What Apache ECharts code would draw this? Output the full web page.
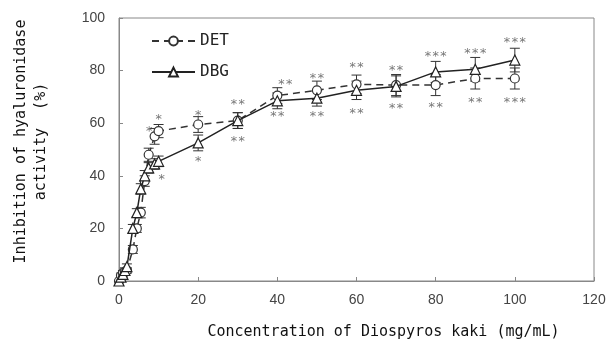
<!DOCTYPE html>
<html>
<head>
<meta charset="utf-8">
<script src="https://cdn.jsdelivr.net/npm/echarts@6/dist/echarts.min.js"></script>
<style>html,body{margin:0;padding:0;background:#fff}#c{width:608px;height:339px}</style>
</head>
<body>
<div id="c"></div>
<script>
// Concentrations (mg/mL)
var conc = [0, 0.5, 1, 1.5, 2, 3.5, 4.5, 5.5, 6.5, 7.5, 9, 10, 20, 30, 40, 50, 60, 70, 80, 90, 100];
// Inhibition (%)
var detValues = [0, 2, 3, 3.5, 4, 12, 20, 26, 38, 48, 55, 57, 59.5, 61, 70.5, 72.5, 74.8, 74.5, 74.5, 77, 77];
var dbgValues = [0, 1.5, 2.5, 4, 5.5, 20, 26, 35, 40, 43, 44.5, 45.5, 52.5, 61, 68.5, 69.5, 72.5, 74, 79.5, 80.5, 84];
// Standard errors
var detErr = [0, 1, 1, 1, 1, 1.5, 1.5, 2, 2, 2.5, 3, 2.5, 3, 3, 3, 3.5, 3.5, 4, 4, 4, 4];
var dbgErr = [0, 1, 1, 1, 1, 1.5, 1.5, 2, 2, 2, 2, 2, 3, 3, 3, 3, 3.5, 4, 4, 4.5, 4.5];
// Significance annotations
var annX = [10, 7.6, 10.8, 20, 20, 30, 30, 42, 40, 50, 50, 60, 60, 70, 70, 80, 80, 90, 90, 100, 100];
var annY = [63, 58.5, 40, 64.5, 47, 68.5, 54.5, 76, 64, 78.5, 64, 82.5, 65, 81.5, 67, 87, 67.5, 88, 69.5, 92, 69.5];
var annText = ['*', '*', '*', '*', '*', '**', '**', '**', '**', '**', '**', '**', '**', '**', '**', '***', '**', '***', '**', '***', '***'];
// Axis ticks
var xTicks = [0, 20, 40, 60, 80, 100, 120];
var yTicks = [0, 20, 40, 60, 80, 100];

var titleFont = 'DejaVu Sans Mono';
function pairs(xs, ys) { return xs.map(function (x, i) { return [x, ys[i]]; }); }
function errData(xs, ys, es) { return xs.map(function (x, i) { return [x, ys[i] - es[i], ys[i] + es[i]]; }); }
function errRender(params, api) {
  var lo = api.coord([api.value(0), api.value(1)]);
  var hi = api.coord([api.value(0), api.value(2)]);
  var w = 5;
  var st = { stroke: '#333', lineWidth: 1 };
  return { type: 'group', children: [
    { type: 'line', shape: { x1: lo[0], y1: lo[1], x2: hi[0], y2: hi[1] }, style: st },
    { type: 'line', shape: { x1: lo[0] - w, y1: lo[1], x2: lo[0] + w, y2: lo[1] }, style: st },
    { type: 'line', shape: { x1: hi[0] - w, y1: hi[1], x2: hi[0] + w, y2: hi[1] }, style: st }
  ]};
}

var chart = echarts.init(document.getElementById('c'), null, { renderer: 'canvas' });
chart.setOption({
  animation: false,
  backgroundColor: '#fff',
  grid: { left: 119, right: 14, top: 18, bottom: 58, show: true, borderColor: '#888', borderWidth: 1,
    outerBoundsMode: 'none', containLabel: false },
  legend: {
    orient: 'vertical', left: 146, top: 28, itemWidth: 43, itemHeight: 11, itemGap: 15,
    textStyle: { fontFamily: titleFont, fontSize: 16, color: '#222' },
    data: ['DET', 'DBG']
  },
  xAxis: {
    type: 'value', min: 0, max: 120, interval: 20,
    name: 'Concentration of Diospyros kaki (mg/mL)', nameLocation: 'middle', nameGap: 44,
    nameTextStyle: { fontFamily: titleFont, fontSize: 15, color: '#111', padding: [0, 0, 0, 54] },
    axisLine: { lineStyle: { color: '#888' } },
    axisTick: { inside: true, length: 4, lineStyle: { color: '#888' } },
    axisLabel: { fontFamily: 'Liberation Sans', fontSize: 14, color: '#444', margin: 12,
      formatter: function (v) { return xTicks.indexOf(v) >= 0 ? String(v) : ''; } },
    splitLine: { show: false }
  },
  yAxis: {
    type: 'value', min: 0, max: 100, interval: 20,
    name: 'Inhibition of hyaluronidase\nactivity  (%)', nameLocation: 'middle', nameGap: 68, nameRotate: 90,
    nameTextStyle: { fontFamily: titleFont, fontSize: 15, color: '#111', lineHeight: 20, padding: [0, 0, 0, 16] },
    axisLine: { show: true, lineStyle: { color: '#888' } },
    axisTick: { show: true, inside: true, length: 4, lineStyle: { color: '#888' } },
    axisLabel: { fontFamily: 'Liberation Sans', fontSize: 14, color: '#444', margin: 14,
      formatter: function (v) { return yTicks.indexOf(v) >= 0 ? String(v) : ''; } },
    splitLine: { show: false }
  },
  series: [
    { type: 'custom', name: 'detErr', renderItem: errRender, data: errData(conc, detValues, detErr), z: 1, silent: true },
    { type: 'custom', name: 'dbgErr', renderItem: errRender, data: errData(conc, dbgValues, dbgErr), z: 1, silent: true },
    { type: 'line', name: 'DET', data: pairs(conc, detValues), symbol: 'circle', symbolSize: 9, showAllSymbol: true,
      lineStyle: { color: '#333', width: 1.5, type: [7, 5] },
      itemStyle: { color: '#fff', borderColor: '#333', borderWidth: 1.2 }, z: 3 },
    { type: 'line', name: 'DBG', data: pairs(conc, dbgValues), symbol: 'triangle', symbolSize: 10, showAllSymbol: true,
      lineStyle: { color: '#222', width: 1.5 },
      itemStyle: { color: '#fff', borderColor: '#222', borderWidth: 1.2 }, z: 4 },
    { type: 'scatter', name: 'ann', data: pairs(annX, annY).map(function (p, i) { return { value: p, label: { formatter: annText[i] } }; }),
      symbolSize: 0, silent: true, z: 5,
      label: { show: true, position: 'inside', offset: [0, 4], fontFamily: 'DejaVu Sans Mono', fontSize: 13, color: '#555' } }
  ]
});
</script>
</body>
</html>
